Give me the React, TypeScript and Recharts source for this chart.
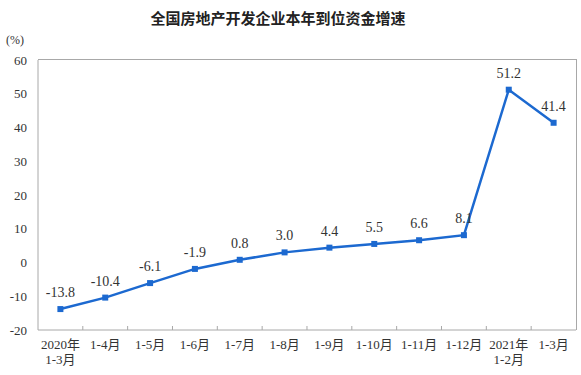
import React from 'react'
import { LineChart, Line, XAxis, YAxis, LabelList } from 'recharts'

const categories = ['2020年\n1-3月', '1-4月', '1-5月', '1-6月', '1-7月', '1-8月', '1-9月', '1-10月', '1-11月', '1-12月', '2021年\n1-2月', '1-3月']
const growth = [-13.8, -10.4, -6.1, -1.9, 0.8, 3.0, 4.4, 5.5, 6.6, 8.1, 51.2, 41.4]
const yTicks = [-20, -10, 0, 10, 20, 30, 40, 50, 60]

const data = categories.map((name, i) => ({ name, value: growth[i] }))

const blue = '#1c69d0'
const border = '#a8a8a8'
const serif = '"Liberation Serif", "Noto Sans CJK SC", serif'
const half = 22.4

const W = 581
const H = 375
const margin = { top: 60, right: 5, bottom: 5, left: 8 }
const yAxisW = 30
const xAxisH = 40

const XTick = (props: any) => {
    const { x, y, payload, index } = props
    const lines = String(payload.value).split('\n')
    return (
        <g>
            {index < categories.length - 1 && (
                <line x1={x + half} x2={x + half} y1={y} y2={y - 4} stroke={border} />
            )}
            {lines.map((t, i) => (
                <text key={i} x={x} y={y + 19 + i * 15} textAnchor="middle" fontSize={13} fill="#333" fontFamily={serif}>
                    {t}
                </text>
            ))}
        </g>
    )
}

const SquareDot = (props: any) => {
    const { cx, cy, index } = props
    return <rect key={index} x={cx - 3} y={cy - 3} width={6} height={6} fill={blue} />
}

export default function App() {
    const plotLeft = margin.left + yAxisW
    const plotTop = margin.top
    const plotW = W - plotLeft - margin.right
    const plotH = H - margin.top - margin.bottom - xAxisH
    return (
        <div style={{ position: 'absolute', left: 0, top: 0, width: W, height: H, background: '#fff' }}>
            <div style={{ position: 'absolute', top: 7, left: 0, width: 556, textAlign: 'center', fontSize: 15, color: '#222', fontFamily: '"Noto Sans CJK SC", sans-serif', fontWeight: 600 }}>
                全国房地产开发企业本年到位资金增速
            </div>
            <div style={{ position: 'absolute', top: 33, left: 6, fontSize: 12, color: '#333', fontFamily: serif }}>
                (%)
            </div>
            {/* frame round the plot */}
            <div style={{ position: 'absolute', left: plotLeft, top: plotTop - 1, width: plotW + 1, height: plotH + 1, boxSizing: 'border-box', borderTop: `1px solid ${border}`, borderRight: `1px solid ${border}` }} />
            <div style={{ position: 'absolute', left: 0, top: 0 }}>
                <LineChart width={W} height={H} data={data} margin={margin}>
                    <XAxis
                        dataKey="name"
                        height={xAxisH}
                        interval={0}
                        padding={{ left: half, right: half }}
                        tickLine={false}
                        tickSize={0}
                        tickMargin={0}
                        axisLine={{ stroke: border }}
                        tick={<XTick />}
                    />
                    <YAxis
                        domain={[-20, 60]}
                        ticks={yTicks}
                        width={yAxisW}
                        tickLine={false}
                        tickSize={0}
                        tickMargin={11}
                        axisLine={{ stroke: border }}
                        tick={{ fontSize: 13, fill: '#333', fontFamily: serif }}
                    />
                    <Line
                        type="linear"
                        dataKey="value"
                        stroke={blue}
                        strokeWidth={2.5}
                        dot={<SquareDot />}
                        activeDot={false}
                        isAnimationActive={false}
                    >
                        <LabelList dataKey="value" position="top" offset={12} fontSize={14} fill="#333" fontFamily={serif} formatter={(v: any) => Number(v).toFixed(1)} />
                    </Line>
                </LineChart>
            </div>
        </div>
    )
}
